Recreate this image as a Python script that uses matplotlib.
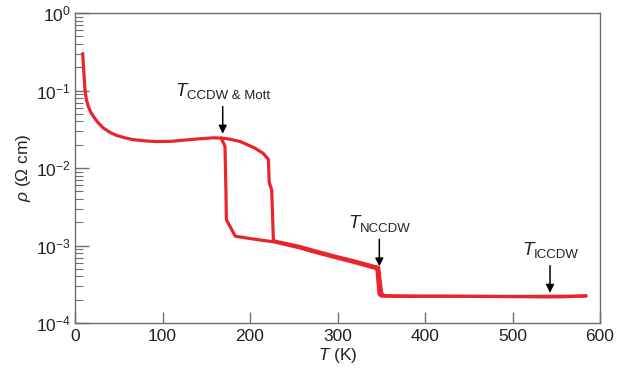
import math
import matplotlib
matplotlib.use("Agg")
import matplotlib.pyplot as plt
from matplotlib import font_manager
from matplotlib.transforms import offset_copy
from matplotlib.ticker import LogLocator, FixedLocator, NullLocator, FuncFormatter

# ---------------- data ----------------
# common low-temperature part (K, ohm cm)
low_T = [8.8, 10, 11.4, 13, 15.2, 18, 21, 26, 32, 40, 47.6, 57, 66.6, 80, 93, 110, 125, 140, 158, 167]
low_rho = [0.30, 0.178, 0.102, 0.076, 0.0624, 0.0525, 0.0463, 0.0389, 0.0331, 0.0288,
           0.0263, 0.0245, 0.0232, 0.0224, 0.0219, 0.0221, 0.0229, 0.0237, 0.0245, 0.0243]

# cooling branch
cool_T = [167, 171.4, 172.5, 173, 177, 183, 200, 228, 257, 272, 299, 320, 345,
          347.5, 350, 380, 420, 460, 500, 540, 560, 584]
cool_rho = [0.0243, 0.0191, 0.0050, 0.00215, 0.00178, 0.00132, 0.00123, 0.00111,
            0.00093, 0.00083, 0.00069, 0.00060, 0.00050,
            0.000235, 0.000222, 0.000220, 0.000221, 0.000220, 0.000219, 0.000217, 0.000218, 0.000225]

# warming branch
warm_T = [167, 175, 188.6, 205, 215, 221, 222, 224.8, 226.7, 228.5, 257, 272, 299, 320, 347,
          350.5, 354, 400, 450, 500, 584]
warm_rho = [0.0243, 0.0238, 0.0220, 0.0182, 0.0155, 0.0129, 0.0065, 0.0052, 0.00119, 0.00114,
            0.00097, 0.00087, 0.00072, 0.00063, 0.00052,
            0.000240, 0.000225, 0.000222, 0.000221, 0.000220, 0.000222]

# annotations: subscript label, T, rho at arrow tip
ann_subs = ["CCDW & Mott", "NCCDW", "ICCDW"]
ann_T = [168.8, 347.8, 542.9]
ann_rho = [0.0277, 0.000537, 0.000245]

x_ticks = [0, 100, 200, 300, 400, 500, 600]
y_exps = [-4, -3, -2, -1, 0]

# ---------------- style ----------------
names = {f.name for f in font_manager.fontManager.ttflist}
fam = "Liberation Sans Narrow" if "Liberation Sans Narrow" in names else "Liberation Sans"
plt.rcParams["font.family"] = [fam, "DejaVu Sans"]
plt.rcParams["mathtext.fontset"] = "custom"
plt.rcParams["mathtext.rm"] = fam
plt.rcParams["mathtext.it"] = fam + ":italic"
plt.rcParams["mathtext.bf"] = fam + ":bold"

red = "#e8252b"
grey = "#6e6e6e"
txt = "#222222"

fig = plt.figure(figsize=(6.23, 3.72), dpi=100)
ax = fig.add_axes([75 / 623, 49 / 372, 525 / 623, 310 / 372])

kw = dict(color=red, lw=2.3, solid_capstyle="round", solid_joinstyle="round")
ax.plot(low_T, low_rho, **kw)
ax.plot(cool_T, cool_rho, **kw)
ax.plot(warm_T, warm_rho, **kw)

ax.set_yscale("log")
ax.set_xlim(0, 600)
ax.set_ylim(1e-4, 1)

ax.xaxis.set_major_locator(FixedLocator(x_ticks))
ax.xaxis.set_minor_locator(NullLocator())
ax.yaxis.set_major_locator(FixedLocator([10.0 ** e for e in y_exps]))
ax.yaxis.set_minor_locator(LogLocator(base=10, subs=range(2, 10), numticks=20))
ax.yaxis.set_major_formatter(FuncFormatter(lambda v, p: r"$\mathrm{10^{%d}}$" % round(math.log10(v))))

for s in ax.spines.values():
    s.set_color(grey)
    s.set_linewidth(1.0)
ax.tick_params(axis="both", which="both", direction="in", color=grey, labelsize=12.5, labelcolor=txt)
ax.tick_params(axis="x", which="major", length=8, width=1, pad=4)
ax.tick_params(axis="y", which="major", length=10, width=1, pad=3)
ax.tick_params(axis="y", which="minor", length=6, width=0.8)
ax.tick_params(top=False, right=False)

ax.set_xlabel(r"$T$ (K)", fontsize=12.5, color=txt, labelpad=2)
ax.set_ylabel(r"$\rho$ ($\mathrm{\Omega}$ cm)", fontsize=12.5, color=txt, labelpad=2)

renderer = fig.canvas.get_renderer()
for sub, t, r in zip(ann_subs, ann_T, ann_rho):
    ax.annotate("", xy=(t, r), xytext=(t, r * 10 ** (0.35)),
                arrowprops=dict(arrowstyle="-|>", color="black", lw=1.1, mutation_scale=12,
                                shrinkA=0, shrinkB=0))
    base = r * 10 ** (0.49)
    tt = ax.text(t, base, "T", fontsize=13.5, style="italic", color=txt, ha="left", va="baseline")
    st = ax.text(t, base, sub, fontsize=9.5, color=txt, ha="left", va="baseline")
    wT = tt.get_window_extent(renderer).width
    wS = st.get_window_extent(renderer).width
    total = wT + wS
    tt.set_transform(offset_copy(ax.transData, fig=fig, x=-total / 2 * 0.72, y=0, units="points"))
    st.set_transform(offset_copy(ax.transData, fig=fig, x=(-total / 2 + wT) * 0.72, y=-2.5, units="points"))

fig.savefig("out.png", dpi=100)
